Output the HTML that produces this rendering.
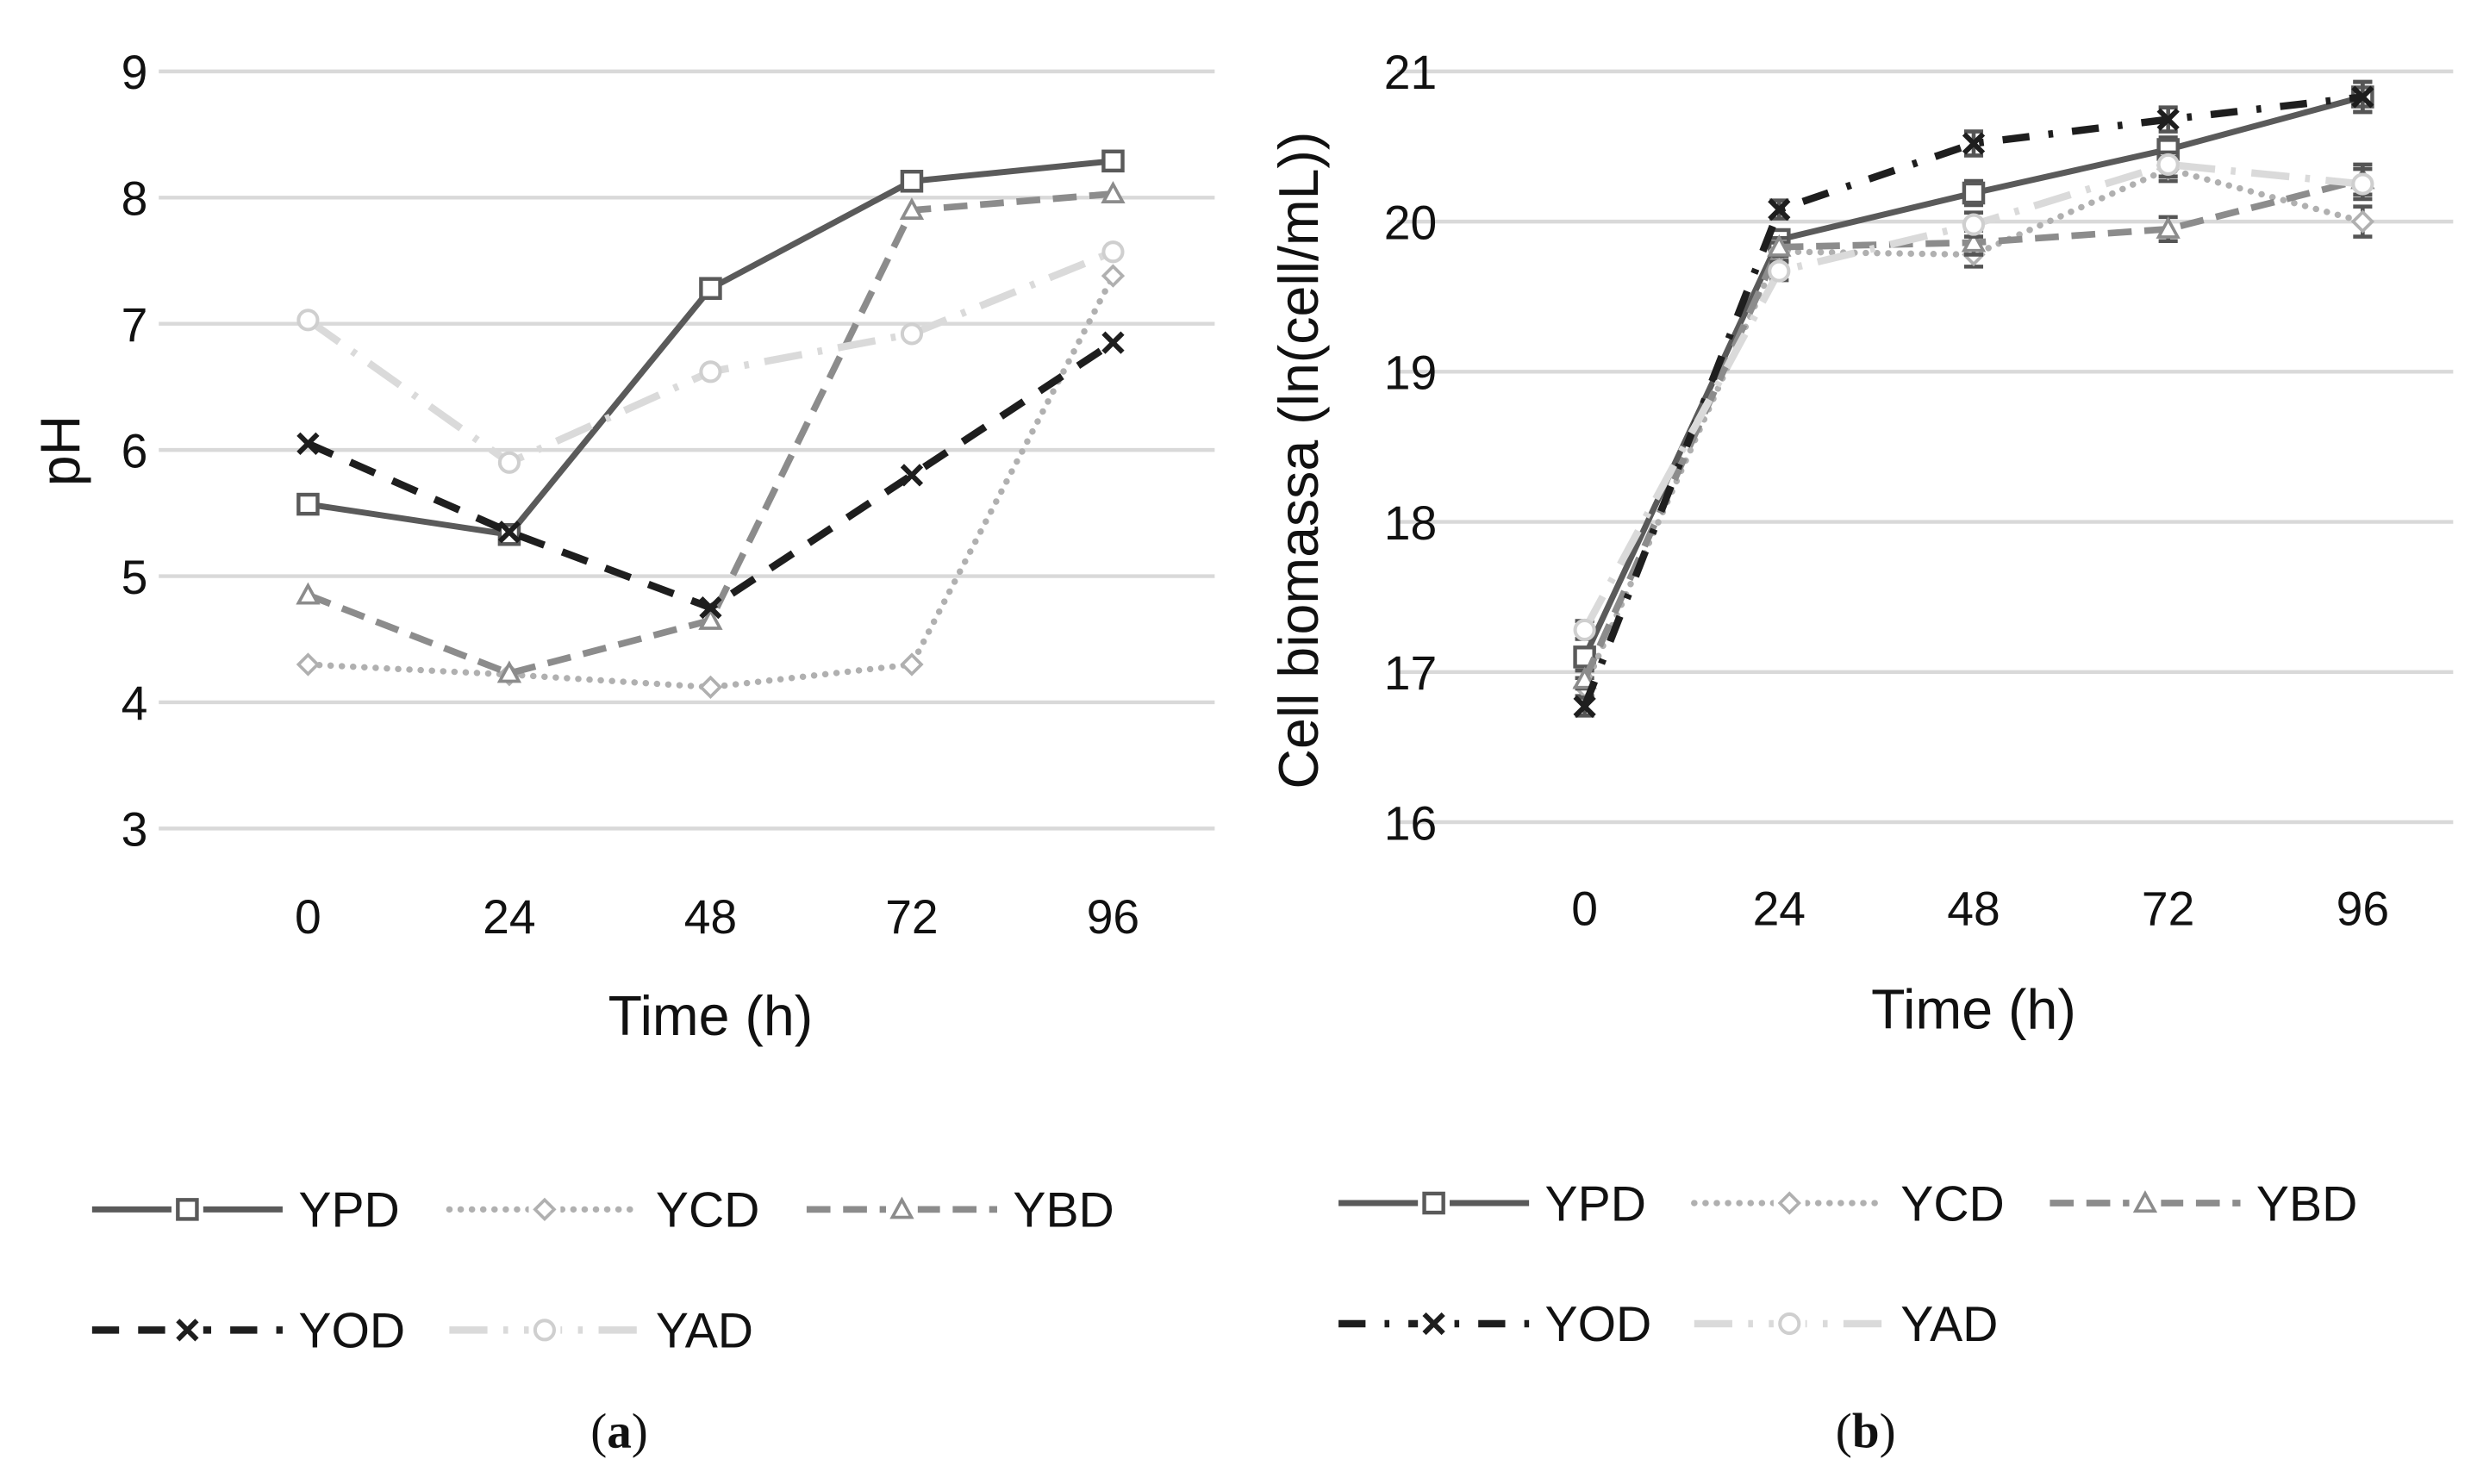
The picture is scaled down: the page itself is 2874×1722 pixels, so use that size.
<!DOCTYPE html>
<html><head><meta charset="utf-8">
<style>
html,body{margin:0;padding:0;background:#fff;}
svg{display:block;font-family:"Liberation Sans",sans-serif;}
</style></head>
<body>
<svg id="fig" width="2874" height="1722" viewBox="0 0 1560 935" preserveAspectRatio="none" xmlns="http://www.w3.org/2000/svg"></svg>
<script>
const categories = [0, 24, 48, 72, 96];
const seriesNames = ["YPD", "YCD", "YBD", "YOD", "YAD"];
const phTicks = [3, 4, 5, 6, 7, 8, 9];
const bioTicks = [16, 17, 18, 19, 20, 21];
const phYPD = [5.57, 5.33, 7.28, 8.13, 8.29];
const phYCD = [4.30, 4.22, 4.12, 4.30, 7.38];
const phYBD = [4.85, 4.23, 4.65, 7.90, 8.03];
const phYOD = [6.05, 5.35, 4.75, 5.80, 6.85];
const phYAD = [7.03, 5.90, 6.62, 6.92, 7.57];
const bioYPD = [17.10, 19.88, 20.19, 20.48, 20.83];
const bioYCD = [16.90, 19.80, 19.78, 20.35, 20.00];
const bioYBD = [16.95, 19.83, 19.86, 19.95, 20.28];
const bioYOD = [16.77, 20.08, 20.52, 20.68, 20.83];
const bioYAD = [17.28, 19.67, 19.98, 20.38, 20.25];
const bioErr = [0.06, 0.06, 0.08, 0.08, 0.10];

const NS = "http://www.w3.org/2000/svg";
const svg = document.getElementById("fig");
function mk(tag, attrs, parent){
  const e = document.createElementNS(NS, tag);
  for (const k in attrs) e.setAttribute(k, attrs[k]);
  (parent || svg).appendChild(e);
  return e;
}
const styles = {
  YPD:{stroke:"#5a5a5a", dash:"", w:3.8, marker:"square"},
  YCD:{stroke:"#b0b0b0", dash:"0.1 7", w:4, marker:"diamond", cap:"round"},
  YBD:{stroke:"#8c8c8c", dash:"15 8", w:4.2, marker:"triangle"},
  YOD:{stroke:"#1e1e1e", dash:"17 12", w:4.6, marker:"cross"},
  YAD:{stroke:"#dadada", dash:"24 10 3 10", w:4.6, marker:"circle"}
};
function marker(g, type, x, y, col){
  let m;
  if (type === "square") m = mk("rect", {x:x-6, y:y-6, width:12, height:12, fill:"#fff", stroke:col, "stroke-width":2.4}, g);
  else if (type === "diamond") m = mk("polygon", {points:`${x},${y-6} ${x+6},${y} ${x},${y+6} ${x-6},${y}`, fill:"#fff", stroke:col, "stroke-width":2}, g);
  else if (type === "triangle") m = mk("polygon", {points:`${x},${y-6} ${x+6},${y+5} ${x-6},${y+5}`, fill:"#fff", stroke:col, "stroke-width":2}, g);
  else if (type === "circle") m = mk("circle", {cx:x, cy:y, r:6, fill:"#fff", stroke:col, "stroke-width":2.2}, g);
  else m = mk("path", {d:`M${x-6},${y-6}L${x+6},${y+6}M${x+6},${y-6}L${x-6},${y+6}`, stroke:col, "stroke-width":3.2, fill:"none"}, g);
  
  
}
function chart(cfg){
  const g = mk("g", {});
  
  
  const yS = v => cfg.y0 + (v - cfg.ticks[0]) / (cfg.ticks[cfg.ticks.length-1] - cfg.ticks[0]) * (cfg.y1 - cfg.y0);
  const xS = i => cfg.xs + i * (cfg.xe - cfg.xs) / (categories.length - 1);
  cfg.ticks.forEach(t => {
    const l = mk("line", {x1:cfg.gx0, x2:cfg.gx1, y1:yS(t), y2:yS(t), stroke:"#d9d9d9", "stroke-width":2.4}, g);
    
    
    const tx = mk("text", {x:cfg.tickX, y:yS(t)+11, "text-anchor":"end", "font-size":30, fill:"#111"}, g);
    tx.textContent = t;
    
    
  });
  categories.forEach((c, i) => {
    const tx = mk("text", {x:xS(i), y:cfg.xlabY, "text-anchor":"middle", "font-size":30, fill:"#111"}, g);
    tx.textContent = c;
    
    
  });
  const xt = mk("text", {x:(xS(0)+xS(4))/2, y:cfg.xtitleY, "text-anchor":"middle", "font-size":35, fill:"#111"}, g);
  xt.textContent = "Time (h)";
  
  
  const yt = mk("text", {x:0, y:0, "text-anchor":"middle", "font-size":35, fill:"#111", transform:`translate(${cfg.ytX},${cfg.ytY}) rotate(-90)`}, g);
  yt.textContent = cfg.ytitle;
  
  
  seriesNames.forEach((n, si) => {
    const st = styles[n];
    const data = cfg.data[si];
    const sg = mk("g", {}, g);
    
    
    if (cfg.err) {
      data.forEach((v, i) => {
        const e = cfg.err[i], x = xS(i);
        const eb = mk("path", {d:`M${x},${yS(v-e)}V${yS(v+e)}M${x-6},${yS(v-e)}H${x+6}M${x-6},${yS(v+e)}H${x+6}`, stroke:"#555", "stroke-width":2.5, fill:"none"}, sg);
        
        
      });
    }
    const dash = (cfg.bio && n === "YOD") ? "17 12 3 12" : st.dash;
    const pl = mk("polyline", {points:data.map((v,i)=>`${xS(i)},${yS(v)}`).join(" "), fill:"none", stroke:st.stroke, "stroke-width":st.w, "stroke-dasharray":dash, "stroke-linecap":st.cap||"butt"}, sg);
    
    
    data.forEach((v, i) => marker(sg, st.marker, xS(i), yS(v), st.stroke === "#dadada" ? "#cfcfcf" : st.stroke));
  });
  const pos = [[0,0],[1,0],[2,0],[0,1],[1,1]];
  seriesNames.forEach((n, si) => {
    const st = styles[n];
    const lx = cfg.legX + pos[si][0]*cfg.legDX, ly = cfg.legY + pos[si][1]*cfg.legDY;
    const lg = mk("g", {}, g);
    
    
    const dash = (cfg.bio && n === "YOD") ? "17 12 3 12" : st.dash;
    mk("line", {x1:lx, x2:lx+120, y1:ly, y2:ly, stroke:st.stroke, "stroke-width":st.w, "stroke-dasharray":dash, "stroke-linecap":st.cap||"butt"}, lg);
    mk("rect", {x:lx+50, y:ly-10, width:20, height:20, fill:"#fff"}, lg);
    marker(lg, st.marker, lx+60, ly, st.stroke === "#dadada" ? "#cfcfcf" : st.stroke);
    const t = mk("text", {x:lx+130, y:ly+11, "font-size":31, fill:"#111"}, lg);
    t.textContent = n;
  });
  const cap = mk("text", {x:cfg.capX, y:912, "text-anchor":"middle", "font-size":31, "font-family":"Liberation Serif, serif", fill:"#111"}, g);
  cap.innerHTML = '(<tspan font-weight="bold">' + cfg.cap + '</tspan>)';
  
  
}
chart({name:"ph-chart", ticks:phTicks, y0:522, y1:45, gx0:100, gx1:765, tickX:93, xs:194, xe:701, xlabY:588,
  xtitleY:652, ytitle:"pH", ytX:50, ytY:284, data:[phYPD,phYCD,phYBD,phYOD,phYAD],
  legX:58, legY:762, legDX:225, legDY:76, capX:390, cap:"a"});
chart({name:"biomass-chart", ticks:bioTicks, y0:518, y1:45, gx0:880, gx1:1545, tickX:905, xs:998, xe:1488, xlabY:583,
  xtitleY:648, ytitle:"Cell biomassa (ln(cell/mL))", ytX:830, ytY:290, data:[bioYPD,bioYCD,bioYBD,bioYOD,bioYAD], err:bioErr, bio:true,
  legX:843, legY:758, legDX:224, legDY:76, capX:1175, cap:"b"});
</script>
</body></html>
